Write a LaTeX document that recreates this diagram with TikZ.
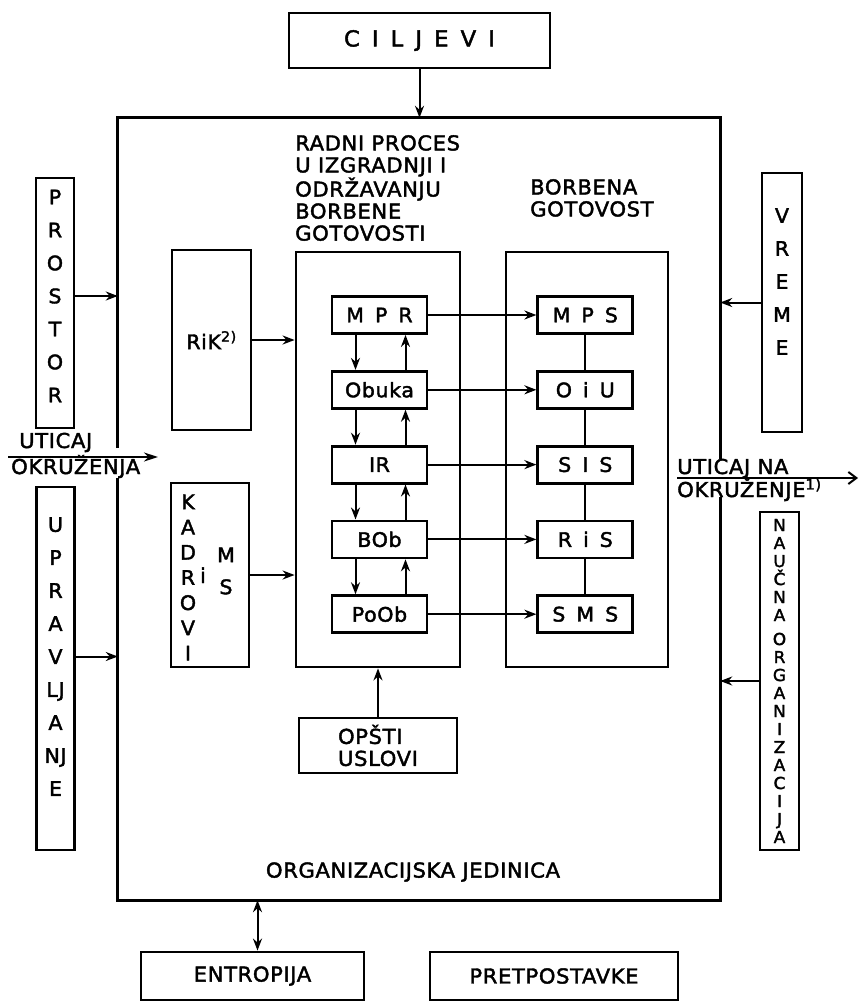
\documentclass[tikz,border=0pt]{standalone}
\usepackage{fontspec}
\setmainfont[LetterSpace=3, FakeBold=2, FakeStretch=1.03]{DejaVu Sans}
\usetikzlibrary{positioning, arrows.meta}

\newcommand{\lgap}{\hspace{.55em}}

\begin{document}
\begin{tikzpicture}[
        x=1pt, y=-1pt,
        box/.style={
            draw, line width=2.8pt, inner sep=0pt,
            font=\fontsize{20}{22}\selectfont
        },
        vbox/.style={box, minimum width=38pt},
        sbox/.style={box, minimum width=95pt, minimum height=37pt},
        lbl/.style={font=\fontsize{20.5}{22}\selectfont, align=left, inner sep=0pt},
        vtext/.style={align=center, inner sep=0pt},
        arr/.style={-{Stealth[length=12pt, width=9pt]}, line width=2pt},
        lnk/.style={line width=2pt}
    ]

    \fill[white] (0,0) rectangle (860,1001);
    \useasboundingbox (0,0) rectangle (860,1001);

    % Ciljevi
    \node[box, minimum width=261pt, minimum height=55pt,
          font=\fontsize{22}{26}\selectfont] (ciljevi) at (419.5,40.5)
        {C\lgap I\lgap L\lgap J\lgap E\lgap V\lgap I};

    % Organizacijska jedinica (frame drawn later, with gaps)
    \node[minimum width=602pt, minimum height=782pt, inner sep=0pt] (oj) at (419,509) {};
    \node[lbl] (ojlbl) at (413,872) {ORGANIZACIJSKA JEDINICA};

    % Uticaj okruzenja
    \node[lbl, anchor=base west] (utic) at (19,448) {UTICAJ};
    \node[lbl, anchor=base west] (okruz) at (11,474) {OKRUŽENJA};
    \coordinate (utstart) at (8,457);
    \coordinate (utend) at (158,457);

    % Uticaj na okruzenje
    \node[lbl, anchor=base west] (utna) at (677,474) {UTICAJ NA};
    \node[lbl, anchor=base west] (okrna) at (677,497) {OKRUŽENJE\textsuperscript{1)}};
    \coordinate (utnastart) at (677,478);
    \coordinate (utnaend) at (858,478);

    % frame of the organizacijska jedinica
    \draw[line width=3pt] (oj.west |- utic.base) -- (oj.north west)
        -- (oj.north east) -- (oj.east |- utna.north);
    \draw[line width=3pt] (oj.east |- okrna.base) -- (oj.south east)
        -- (oj.south west) -- (oj.west |- okruz.south);

    % Prostor
    \node[vbox, minimum height=250pt] (prostor) at (55,303) {};
    \node[vtext, font=\fontsize{20}{33}\selectfont] (prostortxt) at (55,296)
        {P\\R\\O\\S\\T\\O\\R};

    % Upravljanje
    \node[vbox, minimum height=363pt] (upravlj) at (55.5,668.5) {};
    \node[vtext, font=\fontsize{20}{33}\selectfont] (upravljtxt) at (55.5,656.5)
        {U\\P\\R\\A\\V\\LJ\\A\\NJ\\E};

    % RiK
    \node[box, minimum width=79pt, minimum height=180pt] (rik) at (211.5,340)
        {RiK\textsuperscript{2)}};

    % Kadrovi i MS
    \node[box, minimum width=78pt, minimum height=184pt] (kadrovi) at (210,575) {};
    \node[vtext, font=\fontsize{20}{25.2}\selectfont] (kadlet) at (188,577.5)
        {K\\A\\D\\R\\O\\V\\I};
    \node[lbl, anchor=base] (kadi) at (203,583) {i};
    \node[vtext, font=\fontsize{20}{32}\selectfont] (kadms) at (226,571) {M\\S};

    % Radni proces
    \node[box, minimum width=164pt, minimum height=415pt] (proces) at (378,459.5) {};
    \node[lbl, anchor=north west] (proceslbl) at (295,135)
        {RADNI PROCES\\U IZGRADNJI I\\ODRŽAVANJU\\BORBENE\\GOTOVOSTI};

    % Borbena gotovost
    \node[box, minimum width=162pt, minimum height=415pt] (borbena) at (587,459.5) {};
    \node[lbl, anchor=north west] (borbenalbl) at (530,179)
        {BORBENA\\GOTOVOST};

    % process stack
    \node[sbox] (mpr) at (379.5,315) {M\lgap P\lgap R};
    \node[sbox, below=35pt of mpr] (obuka) {Obuka};
    \node[sbox, below=35pt of obuka] (ir) {IR};
    \node[sbox, below=35pt of ir] (bob) {BOb};
    \node[sbox, below=35pt of bob] (poob) {PoOb};

    % readiness stack
    \node[sbox, right=108pt of mpr] (mps) {M\lgap P\lgap S};
    \node[sbox, right=108pt of obuka] (oiu) {O\lgap i\lgap U};
    \node[sbox, right=108pt of ir] (sis) {S\lgap I\lgap S};
    \node[sbox, right=108pt of bob] (ris) {R\lgap i\lgap S};
    \node[sbox, right=108pt of poob] (sms) {S\lgap M\lgap S};

    % Opsti uslovi
    \node[box, minimum width=158pt, minimum height=55pt, align=left,
          font=\fontsize{20.5}{22}\selectfont] (opsti) at (378,745.5)
        {OPŠTI\\USLOVI};

    % Vreme
    \node[box, minimum width=40pt, minimum height=259pt] (vreme) at (782,302.5) {};
    \node[vtext, font=\fontsize{20}{33}\selectfont] (vremetxt) at (782,281.5)
        {V\\R\\E\\M\\E};

    % Naucna organizacija
    \node[box, minimum width=39pt, minimum height=338pt, align=center,
          font=\fontsize{16.5}{18}\selectfont] (naucna) at (779.5,681)
        {N\\A\\U\\Č\\N\\A\\[6pt]O\\R\\G\\A\\N\\I\\Z\\A\\C\\I\\J\\A};

    % Entropija, pretpostavke
    \node[box, minimum width=223pt, minimum height=48pt,
          font=\fontsize{20.5}{22}\selectfont] (entropija) at (252.5,976) {ENTROPIJA};
    \node[box, minimum width=248pt, minimum height=48pt,
          font=\fontsize{20.5}{22}\selectfont] (pretp) at (554,976) {PRETPOSTAVKE};

    % connectors
    \draw[arr] (ciljevi) -- (ciljevi |- oj.north);
    \draw[-{Stealth[length=14pt, width=9pt]}, line width=2pt] (utstart) -- (utend);
    \draw[-{Straight Barb[length=8pt, width=12pt]}, line width=2pt] (utnastart) -- (utnaend);
    \draw[arr] (prostortxt.east -| prostor.east) -- (prostortxt.east -| oj.west);
    \draw[arr] (upravljtxt.east -| upravlj.east) -- (upravljtxt.east -| oj.west);
    \draw[arr] (rik) -- (rik -| proces.west);
    \draw[arr] (kadrovi) -- (kadrovi -| proces.west);
    \draw[arr] (vreme.west) -- (vreme.west -| oj.east);
    \draw[arr] (naucna.west) -- (naucna.west -| oj.east);
    \draw[arr] (opsti) -- (proces);
    \draw[{Stealth[length=12pt, width=9pt]}-{Stealth[length=12pt, width=9pt]}, line width=2pt]
        ([xshift=5pt]entropija.north) -- ([xshift=5pt]entropija.north |- oj.south);

    \foreach \a/\b in {mpr/mps, obuka/oiu, ir/sis, bob/ris, poob/sms}
        \draw[arr] (\a) -- (\b);
    \foreach \a/\b in {mpr/obuka, obuka/ir, ir/bob, bob/poob} {
        \draw[arr] ([xshift=-24pt]\a.south) -- ([xshift=-24pt]\b.north);
        \draw[arr] ([xshift=26pt]\b.north) -- ([xshift=26pt]\a.south);
    }
    \foreach \a/\b in {mps/oiu, oiu/sis, sis/ris, ris/sms}
        \draw[lnk] (\a) -- (\b);

\end{tikzpicture}
\end{document}
